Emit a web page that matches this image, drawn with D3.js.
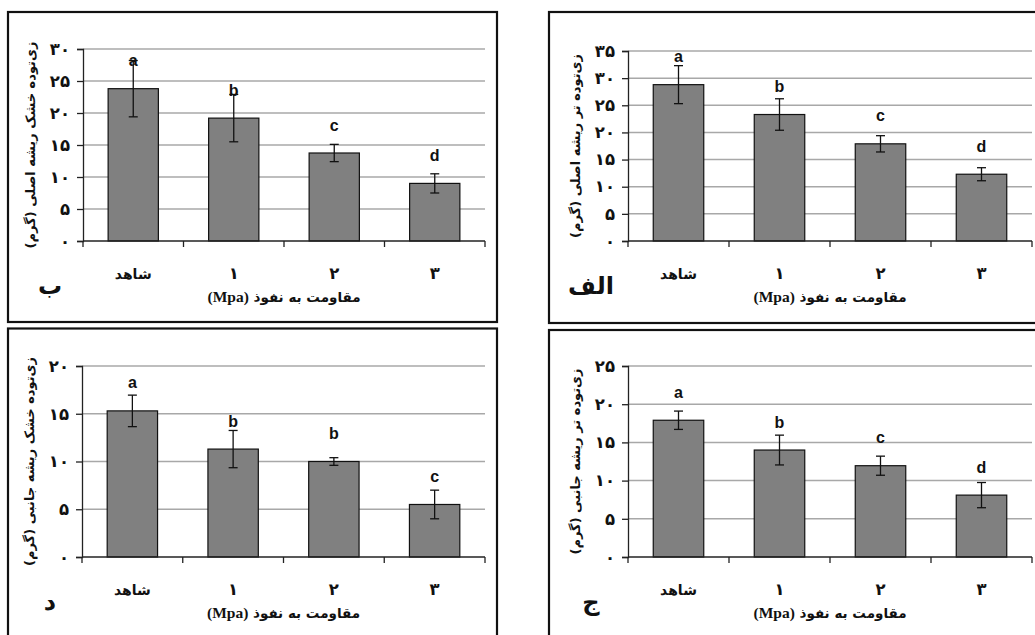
<!DOCTYPE html>
<html><head><meta charset="utf-8">
<script src="https://cdn.jsdelivr.net/npm/d3@7"></script>
<style>body{margin:0;background:#fff}svg{display:block}</style>
</head><body>
<svg id="c" width="1035" height="635"></svg>
<script>
// ---- data ----
const categories = ["شاهد", "۱", "۲", "۳"];
const xTitleFa = "مقاومت به نفوذ ";
const xTitleEn = "(Mpa)";

const alefMeans = [28.8, 23.3, 17.9, 12.3];
const alefErr   = [3.5, 2.9, 1.5, 1.2];
const alefLetters = ["a", "b", "c", "d"];
const alefTicks = [0, 5, 10, 15, 20, 25, 30, 35];

const beMeans = [23.8, 19.2, 13.75, 9.0];
const beErr   = [4.4, 3.7, 1.35, 1.5];
const beLetters = ["a", "b", "c", "d"];
const beTicks = [0, 5, 10, 15, 20, 25, 30];

const jimMeans = [17.9, 14.0, 11.95, 8.1];
const jimErr   = [1.2, 1.95, 1.25, 1.65];
const jimLetters = ["a", "b", "c", "d"];
const jimTicks = [0, 5, 10, 15, 20, 25];

const dalMeans = [15.3, 11.3, 10.0, 5.5];
const dalErr   = [1.65, 1.95, 0.4, 1.5];
const dalLetters = ["a", "b", "b", "c"];
const dalTicks = [0, 5, 10, 15, 20];

const panels = [
  {tag:"ب", yTitle:"زی‌توده خشک ریشه اصلی (گرم)", means:beMeans, err:beErr, letters:beLetters, ticks:beTicks,
   frame:[8,12,497,322], plot:[83,49,485,241]},
  {tag:"الف", yTitle:"زی‌توده تر ریشه اصلی (گرم)", means:alefMeans, err:alefErr, letters:alefLetters, ticks:alefTicks,
   frame:[549,12,1045,323], plot:[628,51,1032,241]},
  {tag:"د", yTitle:"زی‌توده خشک ریشه جانبی (گرم)", means:dalMeans, err:dalErr, letters:dalLetters, ticks:dalTicks,
   frame:[8,328.5,497,645], plot:[82,366,485,557]},
  {tag:"ج", yTitle:"زی‌توده تر ریشه جانبی (گرم)", means:jimMeans, err:jimErr, letters:jimLetters, ticks:jimTicks,
   frame:[549,330,1045,645], plot:[628,366,1032,557]}
];

const faDigits = s => String(s).replace(/\d/g, d => "۰۱۲۳۴۵۶۷۸۹"[d]);
const faFont = "'DejaVu Sans', 'Noto Sans', sans-serif";

const svg = d3.select("#c");

panels.forEach(p => {
  const g = svg.append("g");
  const [fx0, fy0, fx1, fy1] = p.frame;
  const [px0, py0, px1, py1] = p.plot;

  // frame
  g.append("rect").attr("x", fx0).attr("y", fy0).attr("width", fx1 - fx0).attr("height", fy1 - fy0)
    .attr("fill", "none").attr("stroke", "#111").attr("stroke-width", 2.2);

  const x = d3.scaleBand().domain(categories).range([px0, px1]).paddingInner(0.5).paddingOuter(0.25);
  const y = d3.scaleLinear().domain([0, d3.max(p.ticks)]).range([py1, py0]);

  // gridlines
  g.append("g").selectAll("line").data(p.ticks.filter(t => t > 0)).join("line")
    .attr("x1", px0).attr("x2", px1).attr("y1", d => y(d)).attr("y2", d => y(d))
    .attr("stroke", "#a8a8a8").attr("stroke-width", 1.5);

  // y axis
  const ya = g.append("g").attr("transform", `translate(${px0},0)`)
    .call(d3.axisLeft(y).tickValues(p.ticks).tickSize(6).tickPadding(7).tickFormat(d => faDigits(d)));
  ya.select(".domain").attr("stroke", "#222").attr("stroke-width", 1.3);
  ya.selectAll(".tick line").attr("stroke", "#222").attr("stroke-width", 1.3);
  ya.selectAll(".tick text").attr("font-family", faFont).attr("font-weight", "bold")
    .attr("font-size", 16.5).attr("fill", "#111");

  // bars
  g.append("g").selectAll("rect").data(p.means).join("rect")
    .attr("x", (d, i) => x(categories[i])).attr("width", x.bandwidth())
    .attr("y", d => y(d)).attr("height", d => y(0) - y(d))
    .attr("fill", "#808080").attr("stroke", "#111").attr("stroke-width", 1.2);

  // error bars
  const eb = g.append("g").attr("stroke", "#111").attr("stroke-width", 1.3);
  p.means.forEach((m, i) => {
    const cx = x(categories[i]) + x.bandwidth() / 2;
    const hi = y(m + p.err[i]), lo = y(m - p.err[i]);
    eb.append("line").attr("x1", cx).attr("x2", cx).attr("y1", hi).attr("y2", lo);
    eb.append("line").attr("x1", cx - 4.5).attr("x2", cx + 4.5).attr("y1", hi).attr("y2", hi);
    eb.append("line").attr("x1", cx - 4.5).attr("x2", cx + 4.5).attr("y1", lo).attr("y2", lo);
  });

  // significance letters
  g.append("g").selectAll("text").data(p.letters).join("text")
    .attr("x", (d, i) => x(categories[i]) + x.bandwidth() / 2)
    .attr("y", (d, i) => y(p.means[i]) - 22.5)
    .attr("text-anchor", "middle").attr("font-family", "'Liberation Sans', Arial, sans-serif")
    .attr("font-weight", "bold").attr("font-size", 16).attr("fill", "#111").text(d => d);

  // x axis (category boundaries)
  const bounds = [px0, ...categories.slice(0, -1).map(c => x(c) + x.bandwidth() + x.step() * 0.25), px1];
  g.append("line").attr("x1", px0).attr("x2", px1).attr("y1", py1).attr("y2", py1)
    .attr("stroke", "#222").attr("stroke-width", 1.3);
  g.append("g").selectAll("line").data(bounds).join("line")
    .attr("x1", d => d).attr("x2", d => d).attr("y1", py1).attr("y2", py1 + 6)
    .attr("stroke", "#222").attr("stroke-width", 1.3);

  // category labels
  g.append("g").selectAll("text").data(categories).join("text")
    .attr("x", d => x(d) + x.bandwidth() / 2).attr("y", py1 + 38)
    .attr("text-anchor", "middle").attr("font-family", faFont).attr("font-weight", "bold")
    .attr("font-size", (d, i) => i === 0 ? 14 : 16.5).attr("fill", "#111").text(d => d);

  // x title
  const xt = g.append("text").attr("x", (px0 + px1) / 2).attr("y", py1 + 61)
    .attr("text-anchor", "middle").attr("direction", "rtl").attr("fill", "#111").attr("font-weight", "bold");
  xt.append("tspan").attr("font-family", faFont).attr("font-size", 13.5).text(xTitleFa);
  xt.append("tspan").attr("font-family", "'Liberation Serif', serif").attr("font-size", 15.5).text(xTitleEn);

  // y title
  g.append("text").attr("transform", `translate(${px0 - 48},${(py0 + py1) / 2}) rotate(-90)`)
    .attr("text-anchor", "middle").attr("direction", "rtl").attr("font-family", faFont)
    .attr("font-weight", "bold").attr("font-size", 13).attr("fill", "#111").text(p.yTitle);

  // panel tag
  g.append("text").attr("x", fx0 + 42).attr("y", py1 + 53)
    .attr("text-anchor", "middle").attr("font-family", faFont).attr("font-weight", "bold")
    .attr("font-size", 24).attr("fill", "#111").text(p.tag);
});
</script>
</body></html>
